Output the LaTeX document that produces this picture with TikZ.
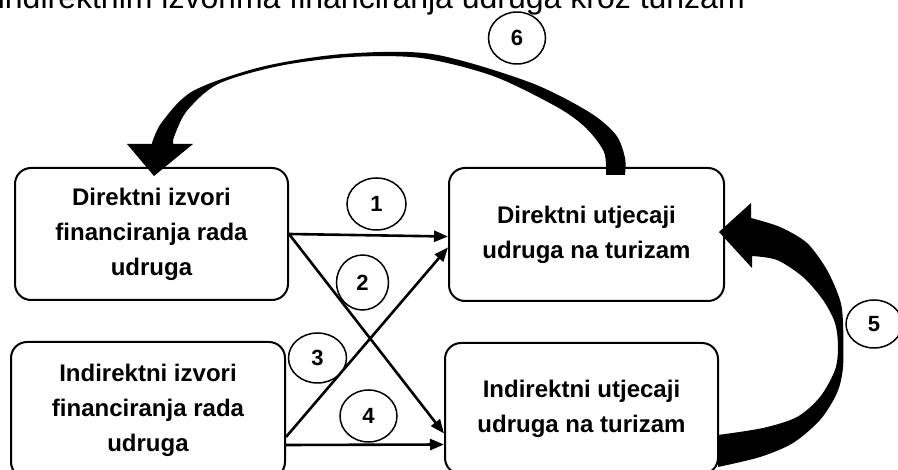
\documentclass[tikz,border=0pt]{standalone}
\usepackage{fontspec}
\setmainfont{Liberation Sans}
\usetikzlibrary{arrows.meta,shapes.geometric,calc}
\begin{document}
\begin{tikzpicture}[x=1pt,y=-1pt,
  box/.style={draw, line width=2pt, rounded corners=16pt, align=center,
    font=\fontsize{24}{35}\selectfont\bfseries, inner sep=0pt},
  num/.style={draw, ellipse, line width=1.5pt, inner sep=0pt,
    font=\fontsize{22}{22}\selectfont\bfseries},
  link/.style={line width=2.6pt, -{Triangle[length=14pt,width=11pt]}},
  bigarrow/.style={fill=black}]
\useasboundingbox (0,0) rectangle (898,470);
\clip (0,0) rectangle (898,470);

% clipped title line
\node[anchor=base east, inner sep=0pt, font=\fontsize{32}{32}\selectfont] (title) at (745,8.5)
  {indirektnim izvorima financiranja udruga kroz turizam};

% boxes
\node[box, minimum width=273pt, minimum height=132pt] (A) at (151.5,234)
  {Direktni izvori\\financiranja rada\\udruga};
\node[box, minimum width=274pt, minimum height=136pt] (B) at (148,410)
  {Indirektni izvori\\financiranja rada\\udruga};
\node[box, minimum width=275pt, minimum height=133pt] (C) at (586.5,234.5)
  {Direktni utjecaji\\udruga na turizam};
\node[box, minimum width=273pt, minimum height=131pt] (D) at (581.5,408.5)
  {Indirektni utjecaji\\udruga na turizam};

% straight connectors
\draw[link] (A.east) -- ([yshift=-2pt]C.west);
\draw[link] (A.east) -- ([yshift=-25pt]D.west);
\draw[link] ([yshift=-27pt]B.east) -- ([yshift=-13pt]C.west);
\draw[link] ([yshift=-35pt]B.east) -- ([yshift=-36pt]D.west);

% big curved arrow 6 (from C to A)
\fill[bigarrow] (127,144) -- (154,176) -- (193,144) -- (173,144)
  -- plot[smooth] coordinates {(173,140) (186,112) (218,84) (279,66) (350,57) (421,58)
     (493,76) (557,107) (586,128) (604,152) (606,175)}
  -- (625,175)
  -- plot[smooth] coordinates {(625,175) (625,158) (616,135) (589,112) (529,82) (432,54)
     (343,54) (261,67) (193,91) (162,122) (152,143)}
  -- (152,144) -- cycle;

% big curved arrow 5 (from D to C)
\fill[bigarrow] (719,232) -- (751,203) -- (751,218)
  -- plot[smooth] coordinates {(751,218) (780,227) (807,243) (827,270) (840,300) (843,323)
     (843,367) (837,393) (820,420) (793,443) (760,457) (718,467)}
  -- (718,435)
  -- plot[smooth] coordinates {(718,435) (763,428) (797,417) (820,397) (835,370) (838,347)
     (835,323) (823,300) (803,277) (777,260) (752,256)}
  -- (752,268) -- cycle;

% number labels
\node[num, minimum width=59pt, minimum height=52pt] (n1) at (376.5,204) {1};
\node[num, minimum width=52pt, minimum height=55pt] (n2) at (362.5,282.5) {2};
\node[num, minimum width=58pt, minimum height=50pt] (n3) at (317.5,358) {3};
\node[num, minimum width=57pt, minimum height=52pt] (n4) at (368.5,416) {4};
\node[num, minimum width=56pt, minimum height=48pt] (n5) at (874,324) {5};
\node[num, minimum width=57pt, minimum height=52pt] (n6) at (517,38) {6};
\end{tikzpicture}
\end{document}
